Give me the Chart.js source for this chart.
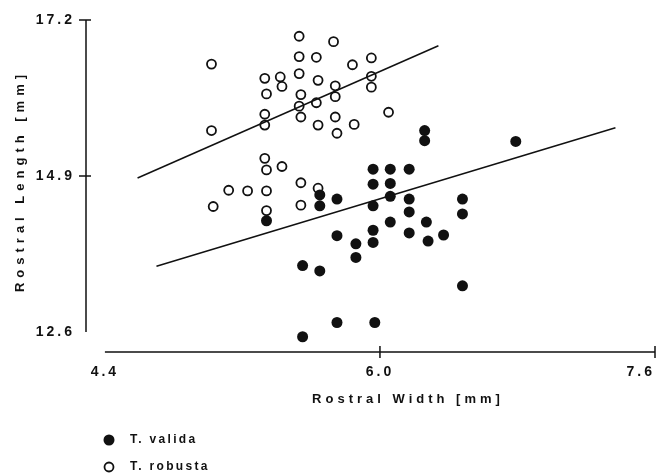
<!DOCTYPE html>
<html>
<head>
<meta charset="utf-8">
<script src="https://cdn.jsdelivr.net/npm/chart.js@4/dist/chart.umd.min.js"></script>
<style>
  html, body { margin: 0; padding: 0; background: #fff; }
  #wrap { position: relative; width: 664px; height: 474px; }
</style>
</head>
<body>
<div id="wrap"><canvas id="myChart"></canvas></div>
<script>
// T. valida (filled circles)
const validaWidth = [5.34, 5.55, 5.55, 5.65, 5.65, 5.65, 5.75, 5.75, 5.75, 5.86,
                     5.86, 5.96, 5.96, 5.96, 5.96, 5.96, 5.97, 6.06, 6.06, 6.06,
                     6.06, 6.17, 6.17, 6.17, 6.17, 6.26, 6.26, 6.27, 6.28, 6.37,
                     6.48, 6.48, 6.48, 6.79]
const validaLength = [14.24, 13.58, 12.53, 14.62, 14.46, 13.50, 14.56, 14.02, 12.74, 13.90,
                      13.70, 15.00, 14.78, 14.46, 14.10, 13.92, 12.74, 15.00, 14.79, 14.60,
                      14.22, 15.00, 14.56, 14.37, 14.06, 15.57, 15.42, 14.22, 13.94, 14.03,
                      14.56, 14.34, 13.28, 15.41]

// T. robusta (open circles)
const robustaWidth = [5.53, 5.73, 5.02, 5.53, 5.63, 5.84, 5.95, 5.33, 5.42, 5.43,
                      5.53, 5.64, 5.95, 5.95, 5.34, 5.54, 5.74, 5.74, 5.53, 5.63,
                      5.33, 5.33, 5.54, 5.74, 6.05, 5.64, 5.85, 5.75, 5.02, 5.33,
                      5.34, 5.43, 5.12, 5.23, 5.34, 5.54, 5.64, 5.03, 5.34, 5.54]
const robustaLength = [16.96, 16.88, 16.55, 16.66, 16.65, 16.54, 16.64, 16.34, 16.36, 16.22,
                       16.41, 16.31, 16.37, 16.21, 16.11, 16.10, 16.23, 16.07, 15.93, 15.98,
                       15.81, 15.65, 15.77, 15.77, 15.84, 15.65, 15.66, 15.53, 15.57, 15.16,
                       14.99, 15.04, 14.69, 14.68, 14.68, 14.80, 14.72, 14.45, 14.39, 14.47]

// regression lines (end points)
const validaFitWidth = [4.70, 7.37]
const validaFitLength = [13.57, 15.61]
const robustaFitWidth = [4.59, 6.34]
const robustaFitLength = [14.87, 16.82]

const xTicks = [4.4, 6.0, 7.6]
const yTicks = [12.6, 14.9, 17.2]
const seriesNames = ['T. valida', 'T. robusta']

const INK = '#111'
const FONT = '"Liberation Sans", Arial, sans-serif'

const toPoints = function (xs, ys) {
    return xs.map((x, i) => ({ x: x, y: ys[i] }))
}

// axis lines, tick marks, titles and legend in the old hand-drawn style
const decor = {
    id: 'decor',
    beforeDraw(chart) {
        chart.ctx.letterSpacing = '3px'
    },
    afterDraw(chart) {
        const ctx = chart.ctx
        const xs = chart.scales.x
        const ys = chart.scales.y
        const area = chart.chartArea

        ctx.save()
        ctx.strokeStyle = INK
        ctx.fillStyle = INK
        ctx.lineWidth = 1.5

        // y axis
        const yTop = ys.getPixelForValue(yTicks[2])
        const yBot = ys.getPixelForValue(yTicks[0])
        ctx.beginPath()
        ctx.moveTo(area.left, yTop)
        ctx.lineTo(area.left, yBot)
        yTicks.slice(1).forEach(v => {
            const p = ys.getPixelForValue(v)
            ctx.moveTo(area.left - 7, p)
            ctx.lineTo(area.left + 5, p)
        })
        // x axis
        const xL = xs.getPixelForValue(xTicks[0])
        const xR = xs.getPixelForValue(xTicks[2])
        ctx.moveTo(xL, area.bottom)
        ctx.lineTo(xR, area.bottom)
        xTicks.slice(1).forEach(v => {
            const p = xs.getPixelForValue(v)
            ctx.moveTo(p, area.bottom - 6)
            ctx.lineTo(p, area.bottom + 6)
        })
        ctx.stroke()

        // axis titles
        ctx.font = 'bold 13px ' + FONT
        ctx.letterSpacing = '4px'
        ctx.textAlign = 'center'
        ctx.textBaseline = 'middle'
        ctx.fillText('Rostral Width [mm]', 408, 399)
        ctx.save()
        ctx.translate(20, 181)
        ctx.rotate(-Math.PI / 2)
        ctx.letterSpacing = '5px'
        ctx.fillText('Rostral Length [mm]', 0, 0)
        ctx.restore()

        // legend
        ctx.font = 'bold 12px ' + FONT
        ctx.letterSpacing = '2.3px'
        ctx.textAlign = 'left'
        seriesNames.forEach((name, i) => {
            const ds = chart.data.datasets[i]
            const cy = 440 + i * 27
            ctx.beginPath()
            ctx.arc(109, cy, ds.pointRadius, 0, Math.PI * 2)
            if (ds.pointBorderWidth > 0) {
                ctx.lineWidth = ds.pointBorderWidth
                ctx.stroke()
            } else {
                ctx.fill()
            }
            ctx.fillText(name, 130, cy)
        })
        ctx.restore()
    }
}

const chart = new Chart(document.getElementById('myChart').getContext('2d'), {
    type: 'scatter',
    data: {
        datasets: [
            {
                label: seriesNames[0],
                data: toPoints(validaWidth, validaLength),
                pointStyle: 'circle',
                pointRadius: 5.5,
                pointBorderWidth: 0,
                backgroundColor: INK,
                borderColor: INK
            },
            {
                label: seriesNames[1],
                data: toPoints(robustaWidth, robustaLength),
                pointStyle: 'circle',
                pointRadius: 4.5,
                pointBorderWidth: 1.8,
                backgroundColor: 'rgba(0,0,0,0)',
                borderColor: INK
            },
            {
                label: 'valida fit',
                data: toPoints(validaFitWidth, validaFitLength),
                showLine: true,
                pointRadius: 0,
                borderWidth: 1.5,
                borderColor: INK
            },
            {
                label: 'robusta fit',
                data: toPoints(robustaFitWidth, robustaFitLength),
                showLine: true,
                pointRadius: 0,
                borderWidth: 1.5,
                borderColor: INK
            }
        ]
    },
    options: {
        responsive: true,
        maintainAspectRatio: false,
        animation: false,
        layout: { padding: { top: 13, right: 9, bottom: 0, left: 0 } },
        plugins: {
            legend: { display: false },
            tooltip: { enabled: false }
        },
        scales: {
            x: {
                type: 'linear',
                min: 4.29,
                max: 7.6,
                grid: { display: false, drawTicks: false },
                border: { display: false },
                afterBuildTicks: s => { s.ticks = [4.29].concat(xTicks).map(v => ({ value: v })) },
                afterFit: s => { s.height = 122; s.paddingLeft = 0; s.paddingRight = 0 },
                ticks: {
                    autoSkip: false,
                    maxRotation: 0,
                    align: 'inner',
                    padding: 12,
                    color: INK,
                    font: { family: FONT, size: 14, weight: 'bold' },
                    callback: v => xTicks.includes(v) ? v.toFixed(1) : ''
                }
            },
            y: {
                type: 'linear',
                min: 12.305,
                max: 17.303,
                grid: { display: false, drawTicks: false },
                border: { display: false },
                afterBuildTicks: s => { s.ticks = yTicks.map(v => ({ value: v })) },
                afterFit: s => { s.width = 86; s.paddingTop = 0; s.paddingBottom = 0 },
                ticks: {
                    autoSkip: false,
                    padding: 11,
                    color: INK,
                    font: { family: FONT, size: 14, weight: 'bold' },
                    callback: v => v.toFixed(1)
                }
            }
        }
    },
    plugins: [decor]
})
</script>
</body>
</html>
